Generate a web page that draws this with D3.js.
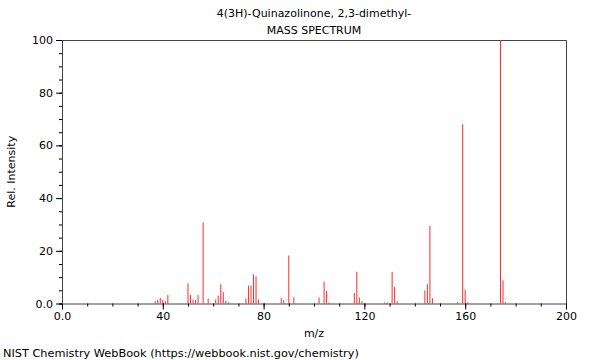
<!DOCTYPE html>
<html><head><meta charset="utf-8">
<script src="https://cdn.jsdelivr.net/npm/d3@7"></script>
<style>body{margin:0;background:#fff}svg{display:block;font-family:"DejaVu Sans",sans-serif}</style>
</head><body>
<svg id="c" width="600" height="360"></svg>
<script>
const title = "4(3H)-Quinazolinone, 2,3-dimethyl-";
const subtitle = "MASS SPECTRUM";
const xLabel = "m/z";
const yLabel = "Rel. Intensity";
const footer = "NIST Chemistry WebBook (https://webbook.nist.gov/chemistry)";
const mz = [37,38,39,40,41,42,50,51,52,53,54,56,58,61,62,63,64,65,66,73,74,75,76,77,78,87,88,90,92,102,104,105,106,116,117,118,119,128,129,131,132,133,144,145,146,147,157,159,160,161,174,175,176];
const intensity = [0.9,1.4,2.1,1.4,0.9,3.2,7.6,3.2,1.5,1.3,3.2,30.8,1.9,1.5,3.0,7.3,4.3,1.0,0.5,1.9,6.8,6.8,11.1,10.3,1.5,2.1,1.3,18.2,2.3,2.3,8.3,4.7,0.4,4.0,12.0,2.3,0.9,0.4,0.4,12.0,6.3,0.9,5.0,7.3,29.4,2.0,0.5,68.0,5.3,0.5,100,8.8,0.5];
const xMajorTicks = [0,40,80,120,160,200];
const yMajorTicks = [0,20,40,60,80,100];

const svg = d3.select("#c");
const m = {l:62, r:34, t:40, b:56.5};
const W = 600, H = 360;
const x = d3.scaleLinear().domain([0,200]).range([m.l, W-m.r]);
const y = d3.scaleLinear().domain([0,100]).range([H-m.b, m.t]);
const fmt = v => v === 0 ? "0.0" : String(v);

// frame (top & right)
svg.append("path").attr("d", `M${m.l},${m.t+0.5}H${W-m.r+0.5}V${H-m.b}`)
  .attr("fill","none").attr("stroke","#444").attr("stroke-width",1);

// bars
svg.append("g").selectAll("line").data(mz).join("line")
  .attr("x1", (d)=>x(d)).attr("x2", (d)=>x(d))
  .attr("y1", y(0)).attr("y2", (d,i)=>y(intensity[i]))
  .attr("stroke","#ff2a2a").attr("stroke-width",1);

// x axis
const gx = svg.append("g").attr("transform",`translate(0,${y(0)})`);
gx.call(d3.axisBottom(x).tickValues(d3.range(0,201,10)).tickSize(3).tickFormat(""));
gx.append("g").call(d3.axisBottom(x).tickValues(xMajorTicks).tickSize(6).tickPadding(3).tickFormat(fmt))
  .call(g=>g.select(".domain").remove());
gx.selectAll("text").attr("font-size",11).attr("font-family","DejaVu Sans").attr("fill","#000");

// y axis
const gy = svg.append("g").attr("transform",`translate(${m.l},0)`);
gy.call(d3.axisLeft(y).tickValues(d3.range(0,101,5)).tickSize(3).tickFormat(""));
gy.append("g").call(d3.axisLeft(y).tickValues(yMajorTicks).tickSize(6).tickPadding(3).tickFormat(fmt))
  .call(g=>g.select(".domain").remove());
gy.selectAll("text").attr("font-size",11).attr("font-family","DejaVu Sans").attr("fill","#000");
svg.selectAll(".domain").attr("stroke","#444");

// texts
svg.append("text").attr("x",(m.l+W-m.r)/2).attr("y",17).attr("text-anchor","middle").attr("font-size",11).text(title);
svg.append("text").attr("x",(m.l+W-m.r)/2).attr("y",34).attr("text-anchor","middle").attr("font-size",11).text(subtitle);
svg.append("text").attr("x",(m.l+W-m.r)/2).attr("y",337).attr("text-anchor","middle").attr("font-size",11).text(xLabel);
svg.append("text").attr("transform",`translate(15,${(m.t+H-m.b)/2}) rotate(-90)`).attr("text-anchor","middle").attr("font-size",11).text(yLabel);
svg.append("text").attr("x",3).attr("y",357).attr("font-size",11.3).text(footer);
</script>
</body></html>
